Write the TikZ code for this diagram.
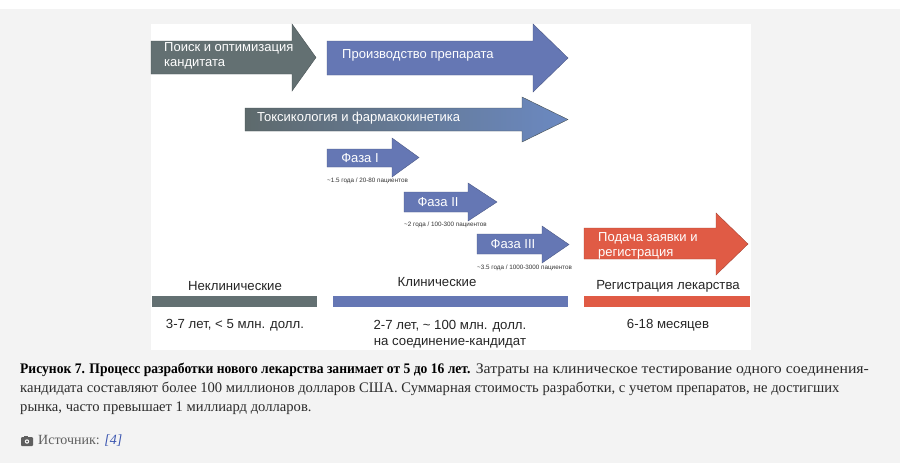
\documentclass[tikz,border=0pt]{standalone}
\usepackage{fontspec}
\setmainfont{Liberation Sans}
\newfontfamily\capfont{Liberation Serif}
\newfontfamily\capnarrow{Liberation Serif}[FakeStretch=0.93]
\newfontfamily\capwide{Liberation Serif}[FakeStretch=1.08]
\definecolor{pagebg}{HTML}{F3F3F3}
\definecolor{grayarrow}{HTML}{637072}
\definecolor{bluearrow}{HTML}{6577B4}
\definecolor{redarrow}{HTML}{E05B45}
\definecolor{toxleft}{HTML}{5E6A6C}
\definecolor{toxright}{HTML}{6B89C2}
\definecolor{captext}{HTML}{2B2B2B}
\definecolor{srcgray}{HTML}{5F5F5F}
\definecolor{srcblue}{HTML}{3A55B0}
\definecolor{smalltext}{HTML}{333333}
% #1 style, #2 x0, #3 head start, #4 tip, #5 body top, #6 body bottom, #7 head top, #8 head bottom
\newcommand\procarrow[8]{%
  \path[#1] (#2,#5) -- (#3,#5) -- (#3,#7) -- (#4,{(#7+#8)/2}) -- (#3,#8) -- (#3,#6) -- (#2,#6) -- cycle;}
\tikzset{
  arrowtext/.style={text=white, font=\fontsize{13}{15.5}\selectfont, inner sep=0pt, align=left},
  phasetext/.style={text=white, font=\fontsize{13}{15}\selectfont, inner sep=0pt},
  smalllabel/.style={text=smalltext, font=\fontsize{6.3}{7}\selectfont, inner sep=0pt, anchor=west},
  barlabel/.style={text=black!85, font=\fontsize{13.2}{16}\selectfont, inner sep=0pt, align=center},
  caption/.style={text=captext, font=\capfont\fontsize{14.6}{16}\selectfont, inner sep=0pt, anchor=west},
}
\begin{document}
\begin{tikzpicture}[x=1pt, y=-1pt]
\useasboundingbox (0,0) rectangle (900,467);
% page background
\fill[pagebg] (0,0) rectangle (900,467);
\fill[white] (0,0) rectangle (900,9);
\fill[white] (0,463) rectangle (900,467);
% image panel
\fill[white] (151,24) rectangle (751,350);

% big arrows
\procarrow{fill=grayarrow, draw=grayarrow!75!black, line width=0.4pt}{151}{292}{316}{41}{74}{24}{91}
\procarrow{fill=bluearrow, draw=bluearrow!75!black, line width=0.4pt}{327}{533}{568}{41}{75}{24}{92}
\procarrow{left color=toxleft, right color=toxright, draw=toxleft!75!black, line width=0.4pt}{245}{522}{568}{108}{131}{97}{142}
% phases
\procarrow{fill=bluearrow, draw=bluearrow!75!black, line width=0.4pt}{327}{392}{419}{149}{167}{138}{177}
\procarrow{fill=bluearrow, draw=bluearrow!75!black, line width=0.4pt}{404}{468}{497}{192}{212}{183}{221}
\procarrow{fill=bluearrow, draw=bluearrow!75!black, line width=0.4pt}{477}{542}{569}{234}{254}{226}{263}
% registration
\procarrow{fill=redarrow, draw=redarrow!75!black, line width=0.4pt}{584}{716}{748}{228}{259}{213}{275}

% arrow texts
\node[arrowtext, anchor=west] (search) at (164,56) {Поиск и оптимизация\\кандитата};
\node[arrowtext, anchor=west] (prod) at (342,55) {Производство препарата};
\node[arrowtext, anchor=west] (tox) at (257,118) {Токсикология и фармакокинетика};
\node[phasetext] (ph1) at (360,158) {Фаза I};
\node[phasetext] (ph2) at (438,202) {Фаза II};
\node[phasetext] (ph3) at (513,244) {Фаза III};
\node[arrowtext, anchor=west] (reg) at (598,246) {Подача заявки и\\регистрация};

% small labels
\node[smalllabel] (s1) at (327,181) {\textasciitilde1.5 года / 20-80 пациентов};
\node[smalllabel] (s2) at (404,225) {\textasciitilde2 года / 100-300 пациентов};
\node[smalllabel] (s3) at (477,268) {\textasciitilde3.5 года / 1000-3000 пациентов};

% bars
\fill[grayarrow] (152,296) rectangle (317,307);
\fill[bluearrow] (333,296) rectangle (568,307);
\fill[redarrow] (584,296) rectangle (750,307);

\node[barlabel] (b1) at (235,286) {Неклинические};
\node[barlabel] (b2) at (437,282) {Клинические};
\node[barlabel] (b3) at (668,286) {Регистрация лекарства};
\node[barlabel] (c1) at (235,325) {3-7 лет, < 5 млн. долл.};
\node[barlabel] (c2) at (450,334) {2-7 лет, \textasciitilde{} 100 млн. долл.\\на соединение-кандидат};
\node[barlabel] (c3) at (668,325) {6-18 месяцев};

% caption
\node[caption] (cap1) at (20,370) {{\capnarrow\fontsize{14.6}{16}\selectfont\bfseries\color{black}Рисунок 7. Процесс разработки нового лекарства занимает от 5 до 16 лет.}{\capwide\fontsize{14.6}{16}\selectfont{} Затраты на клиническое тестирование одного соединения-}};
\node[caption] (cap2) at (20,389) {кандидата составляют более 100 миллионов долларов США. Суммарная стоимость разработки, с учетом препаратов, не достигших};
\node[caption] (cap3) at (20,408) {рынка, часто превышает 1 миллиард долларов.};

% source
\fill[srcgray, rounded corners=1pt] (21,437) rectangle (33,446);
\fill[srcgray] (24,435.5) rectangle (28,437.5);
\fill[white] (27,441.5) circle (2.2);
\fill[srcgray] (27,441.5) circle (1.2);
\node[caption, text=srcgray, font=\capfont\fontsize{14}{16}\selectfont] (src) at (38,441) {Источник: \textcolor{srcblue}{\textit{[4]}}};
\end{tikzpicture}
\end{document}
